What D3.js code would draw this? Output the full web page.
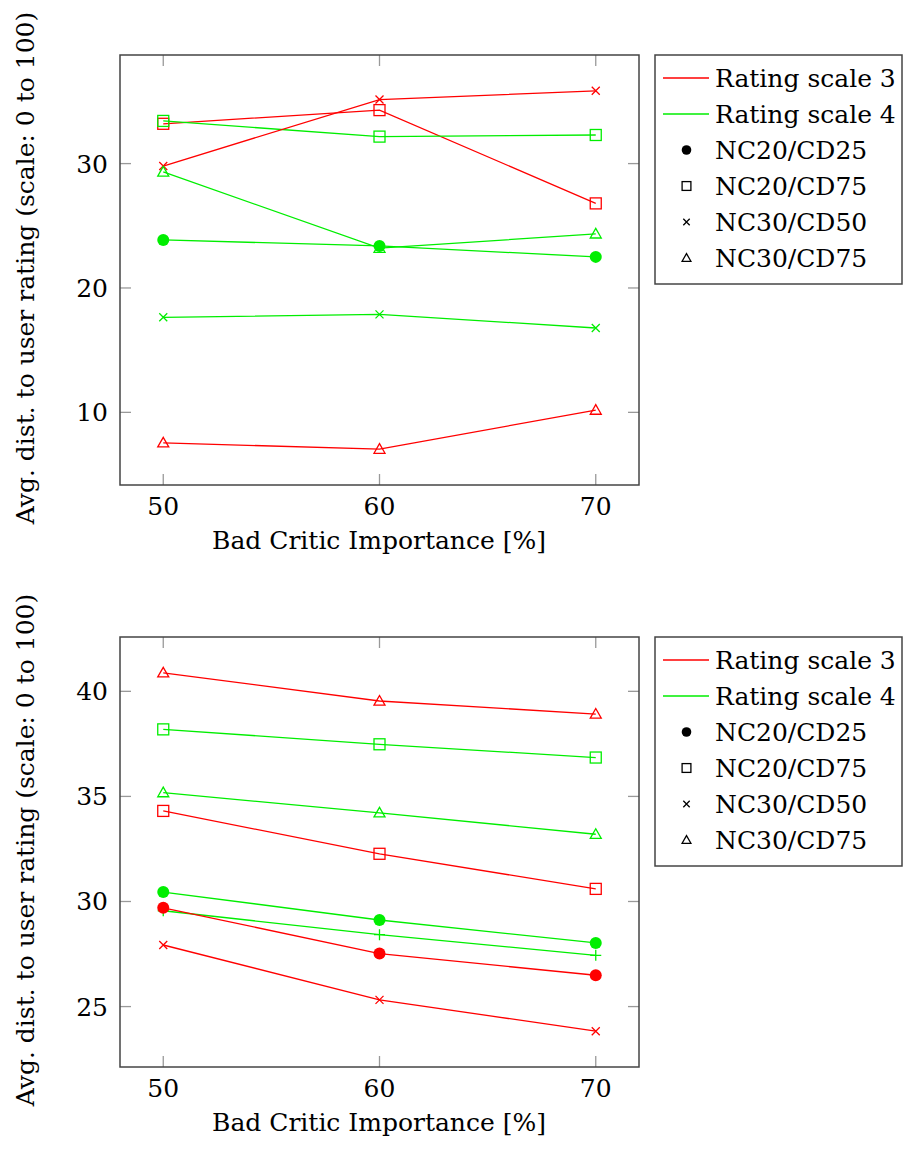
<!DOCTYPE html>
<html>
<head>
<meta charset="utf-8">
<script src="https://cdn.jsdelivr.net/npm/d3@7"></script>
<style>
	body { margin: 0; background: #fff; }
	text { font-family: "DejaVu Serif", serif; fill: #000; }
</style>
</head>
<body>
<script>
// valori
const xValues = [50, 60, 70];

// grafico in alto
const topScale3Square = [33.2, 34.3, 26.8];
const topScale3Cross = [29.8, 35.15, 35.85];
const topScale3Triangle = [7.55, 7.04, 10.18];
const topScale4Circle = [23.86, 23.38, 22.5];
const topScale4Square = [33.43, 32.17, 32.3];
const topScale4Cross = [17.64, 17.88, 16.78];
const topScale4Triangle = [29.33, 23.2, 24.35];
const topYTicks = [10, 20, 30];

// grafico in basso
const botScale3Circle = [29.7, 27.52, 26.49];
const botScale3Square = [34.31, 32.27, 30.6];
const botScale3Cross = [27.93, 25.32, 23.83];
const botScale3Triangle = [40.88, 39.54, 38.92];
const botScale4Circle = [30.45, 29.12, 28.03];
const botScale4Square = [38.19, 37.48, 36.85];
const botScale4Plus = [29.56, 28.42, 27.44];
const botScale4Triangle = [35.18, 34.22, 33.2];
const botYTicks = [25, 30, 35, 40];

const xTicks = [50, 60, 70];
const legendLabels = ["Rating scale 3", "Rating scale 4", "NC20/CD25", "NC20/CD75", "NC30/CD50", "NC30/CD75"];
const legendMarkers = ["circle", "square", "cross", "triangle"];

const RED = "#ff0000";
const GREEN = "#00ee00";

const width = 904;
const height = 1149;

const svg = d3.select("body")
	.append("svg")
	.attr("width", width)
	.attr("height", height);

function drawMarker(g, type, x, y, color, s) {
	if (type === "circle") {
		g.append("circle").attr("cx", x).attr("cy", y).attr("r", 6 * s)
			.attr("fill", color);
	} else if (type === "square") {
		const h = 5.5 * s;
		g.append("rect").attr("x", x - h).attr("y", y - h)
			.attr("width", 2 * h).attr("height", 2 * h)
			.attr("fill", "none").attr("stroke", color).attr("stroke-width", 1.3);
	} else if (type === "cross") {
		const h = 4 * s;
		g.append("path").attr("d", `M${x - h},${y - h}L${x + h},${y + h}M${x - h},${y + h}L${x + h},${y - h}`)
			.attr("stroke", color).attr("stroke-width", 1.3);
	} else if (type === "plus") {
		const h = 5.5 * s;
		g.append("path").attr("d", `M${x - h},${y}L${x + h},${y}M${x},${y - h}L${x},${y + h}`)
			.attr("stroke", color).attr("stroke-width", 1.3);
	} else if (type === "triangle") {
		const h = 5.5 * s;
		g.append("path").attr("d", `M${x},${y - h}L${x + h},${y + h * 0.75}L${x - h},${y + h * 0.75}Z`)
			.attr("fill", "none").attr("stroke", color).attr("stroke-width", 1.3);
	}
}

function drawChart(top, series, yTicks) {
	const left = 120, right = 639, plotH = 430;
	const g = svg.append("g");

	// limiti allargati del 10% come pgfplots
	const all = series.flatMap(s => s.values);
	const yMin = d3.min(all), yMax = d3.max(all);
	const pad = (yMax - yMin) * 0.1;

	const x = d3.scaleLinear().domain([48, 72]).range([left, right]);
	const y = d3.scaleLinear().domain([yMin - pad, yMax + pad]).range([top + plotH, top]);

	// tacche
	const tickLen = 11;
	const tickColor = "#999";
	xTicks.forEach(t => {
		g.append("line").attr("x1", x(t)).attr("x2", x(t)).attr("y1", top + plotH).attr("y2", top + plotH - tickLen)
			.attr("stroke", tickColor).attr("stroke-width", 1.3);
		g.append("line").attr("x1", x(t)).attr("x2", x(t)).attr("y1", top).attr("y2", top + tickLen)
			.attr("stroke", tickColor).attr("stroke-width", 1.3);
		g.append("text").attr("x", x(t)).attr("y", top + plotH + 21).attr("dy", "0.36em")
			.attr("text-anchor", "middle").attr("font-size", 25).text(t);
	});
	yTicks.forEach(t => {
		g.append("line").attr("x1", left).attr("x2", left + tickLen).attr("y1", y(t)).attr("y2", y(t))
			.attr("stroke", tickColor).attr("stroke-width", 1.3);
		g.append("line").attr("x1", right).attr("x2", right - tickLen).attr("y1", y(t)).attr("y2", y(t))
			.attr("stroke", tickColor).attr("stroke-width", 1.3);
		g.append("text").attr("x", 108).attr("y", y(t)).attr("dy", "0.36em")
			.attr("text-anchor", "end").attr("font-size", 25).text(t);
	});

	// serie
	const line = d3.line().x((d, i) => x(xValues[i])).y(d => y(d));
	series.forEach(s => {
		g.append("path").attr("d", line(s.values))
			.attr("fill", "none").attr("stroke", s.color).attr("stroke-width", 1.3);
		s.values.forEach((v, i) => drawMarker(g, s.marker, x(xValues[i]), y(v), s.color, 1));
	});

	// cornice
	g.append("rect").attr("x", left).attr("y", top).attr("width", right - left).attr("height", plotH)
		.attr("fill", "none").attr("stroke", "#444").attr("stroke-width", 1.5);

	// etichette assi
	g.append("text").attr("x", 379).attr("y", top + plotH + 64)
		.attr("text-anchor", "middle").attr("font-size", 25).text("Bad Critic Importance [%]");
	g.append("text")
		.attr("transform", `translate(34, ${top + plotH / 2 - 2}) rotate(-90)`)
		.attr("text-anchor", "middle").attr("font-size", 25)
		.text("Avg. dist. to user rating (scale: 0 to 100)");

	// legenda
	const lx = 655, ly = top, rowH = 36;
	g.append("rect").attr("x", lx).attr("y", ly).attr("width", 247).attr("height", 229)
		.attr("fill", "#fff").attr("stroke", "#444").attr("stroke-width", 1.5);
	legendLabels.forEach((lab, i) => {
		const cy = ly + 23 + i * rowH;
		if (i < 2) {
			g.append("line").attr("x1", 663).attr("x2", 709).attr("y1", cy).attr("y2", cy)
				.attr("stroke", i === 0 ? RED : GREEN).attr("stroke-width", 1.3);
		} else {
			drawMarker(g, legendMarkers[i - 2], 686.5, cy, "#000", 0.8);
		}
		g.append("text").attr("x", 715).attr("y", cy).attr("dy", "0.36em")
			.attr("font-size", 25).text(lab);
	});
}

drawChart(55, [
	{ values: topScale3Square, color: RED, marker: "square" },
	{ values: topScale4Square, color: GREEN, marker: "square" },
	{ values: topScale3Cross, color: RED, marker: "cross" },
	{ values: topScale4Triangle, color: GREEN, marker: "triangle" },
	{ values: topScale4Circle, color: GREEN, marker: "circle" },
	{ values: topScale4Cross, color: GREEN, marker: "cross" },
	{ values: topScale3Triangle, color: RED, marker: "triangle" }
], topYTicks);

drawChart(637, [
	{ values: botScale3Triangle, color: RED, marker: "triangle" },
	{ values: botScale4Square, color: GREEN, marker: "square" },
	{ values: botScale4Triangle, color: GREEN, marker: "triangle" },
	{ values: botScale3Square, color: RED, marker: "square" },
	{ values: botScale4Circle, color: GREEN, marker: "circle" },
	{ values: botScale4Plus, color: GREEN, marker: "plus" },
	{ values: botScale3Circle, color: RED, marker: "circle" },
	{ values: botScale3Cross, color: RED, marker: "cross" }
], botYTicks);
</script>
</body>
</html>
